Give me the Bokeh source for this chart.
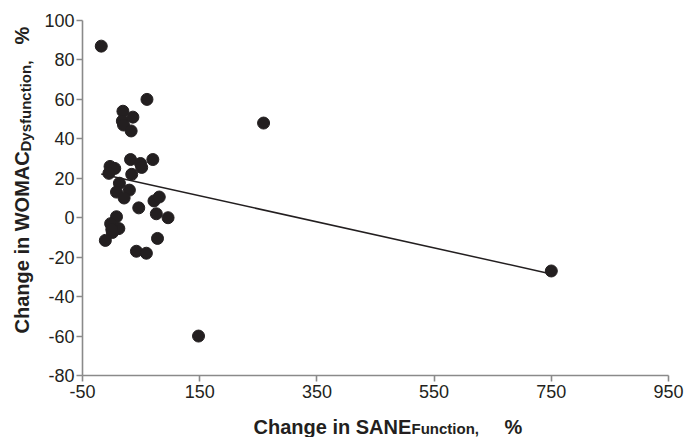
import numpy as np
from bokeh.plotting import figure
from bokeh.layouts import row, column
from bokeh.models import Range1d, FixedTicker, Label
from bokeh.embed import file_html
from bokeh.resources import INLINE

# ---- data ----
sane_change = [-18, 60, 19, 18, 36, 20, 33, 32, 70, 49, 51, -3, 5, -5, 34, 13,
               8, 30, 21, 46, 72, 81, 76, 96, 8, -2, 12, 1, 0, -11, 78, 42, 59,
               259, 148, 750]
womac_change = [87, 60, 54, 49, 51, 47, 44, 29.5, 29.5, 27.5, 25.5, 26, 25, 22.5,
                22, 17.5, 13, 14, 10, 5, 8.5, 10.5, 2, 0, 0.5, -3, -5.5, -7.5,
                -6, -11.5, -10.5, -17, -18, 48, -60, -27]
trend_slope = -0.066
trend_intercept = 21.0
x_ticks = [-50, 150, 350, 550, 750, 950]
x_tick_labels = ["-50", "150", "350", "550", "750", "950"]
y_ticks = [-80, -60, -40, -20, 0, 20, 40, 60, 80, 100]
y_tick_labels = ["-80", "-60", "-40", "-20", "0", "20", "40", "60", "80", "100"]

TICK_FONT = "Liberation Sans"
TITLE_FONT = "Liberation Sans"
INK = "#231f20"
AXIS_GREY = "#8a8a8a"

# ---- main plot ----
p = figure(width=657, height=410, output_backend="svg", toolbar_location=None,
           x_range=Range1d(-50, 950), y_range=Range1d(-80, 100),
           frame_width=586, frame_height=355,
           min_border_left=42, min_border_right=29, min_border_top=20,
           min_border_bottom=35)
p.outline_line_color = None
p.grid.visible = False

for ax in (p.xaxis[0], p.yaxis[0]):
    ax.axis_line_color = AXIS_GREY
    ax.axis_line_width = 1.6
    ax.major_tick_line_color = AXIS_GREY
    ax.major_tick_line_width = 1.6
    ax.major_tick_out = 6
    ax.major_tick_in = 0
    ax.minor_tick_line_color = None
    ax.major_label_text_font = TICK_FONT
    ax.major_label_text_font_size = "18px"
    ax.major_label_text_color = INK

p.xaxis[0].ticker = FixedTicker(ticks=x_ticks)
p.yaxis[0].ticker = FixedTicker(ticks=y_ticks)
p.xaxis[0].major_label_overrides = dict(zip(x_ticks, x_tick_labels))
p.yaxis[0].major_label_overrides = dict(zip(y_ticks, y_tick_labels))
p.xaxis[0].major_label_standoff = 3
p.yaxis[0].major_label_standoff = 2

xs = np.array([min(sane_change), max(sane_change)], dtype=float)
p.line(xs, trend_intercept + trend_slope * xs, line_color=INK, line_width=1.5)
p.scatter(sane_change, womac_change, size=12, marker="circle",
          fill_color=INK, line_color=INK)


def blank(w, h):
    f = figure(width=w, height=h, output_backend="svg", toolbar_location=None,
               x_range=Range1d(0, w), y_range=Range1d(0, h),
               x_axis_location=None, y_axis_location=None,
               min_border=0, min_border_left=0, min_border_right=0,
               min_border_top=0, min_border_bottom=0)
    f.outline_line_color = None
    f.grid.visible = False
    return f


def lab(f, x, y, text, size, angle=0.0):
    f.add_layout(Label(x=x, y=y, x_units="screen", y_units="screen", text=text,
                       text_font=TITLE_FONT, text_font_style="bold",
                       text_font_size=size, text_color=INK, text_align="left",
                       text_baseline="alphabetic", angle=angle))


# ---- y axis title (rotated, with subscript) ----
left = blank(40, 410)
lab(left, 21, 42, "Change in WOMAC", "20px", np.pi / 2)
lab(left, 25, 224, "Dysfunction,", "15px", np.pi / 2)
lab(left, 21, 331, "%", "20px", np.pi / 2)

# ---- x axis title (with subscript) ----
bottom = blank(697, 27)
lab(bottom, 253, 11, "Change in SANE", "20px")
lab(bottom, 411, 9, "Function,", "15px")
lab(bottom, 504, 11, "%", "20px")

layout = column(row(left, p, spacing=0), bottom, spacing=0)
open("out.html", "w").write(file_html(layout, INLINE))
